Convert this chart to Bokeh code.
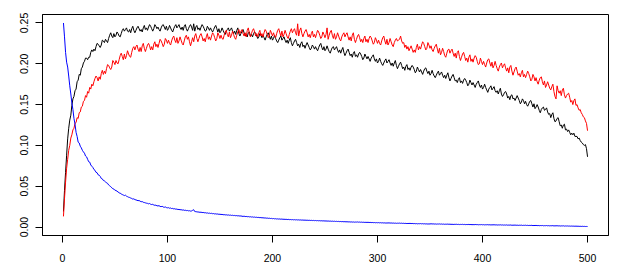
from bokeh.plotting import figure
from bokeh.models import Range1d, FixedTicker, NumeralTickFormatter
from bokeh.embed import file_html
from bokeh.resources import INLINE

x_ticks = [0, 100, 200, 300, 400, 500]
y_ticks = [0.00, 0.05, 0.10, 0.15, 0.20, 0.25]

black_vals = [
    0.019, 0.045, 0.067, 0.088, 0.108, 0.121, 0.131, 0.137, 0.149, 0.157,
    0.160, 0.167, 0.169, 0.178, 0.180, 0.187, 0.186, 0.194, 0.196, 0.201,
    0.203, 0.207, 0.207, 0.205, 0.208, 0.208, 0.214, 0.217, 0.215, 0.218,
    0.216, 0.221, 0.225, 0.224, 0.222, 0.220, 0.223, 0.229, 0.228, 0.226,
    0.230, 0.228, 0.226, 0.231, 0.235, 0.238, 0.234, 0.232, 0.237, 0.233,
    0.235, 0.239, 0.237, 0.234, 0.233, 0.237, 0.241, 0.243, 0.240, 0.242,
    0.244, 0.240, 0.239, 0.242, 0.238, 0.243, 0.246, 0.241, 0.238, 0.241,
    0.244, 0.246, 0.243, 0.240, 0.242, 0.239, 0.244, 0.247, 0.242, 0.244,
    0.241, 0.245, 0.248, 0.246, 0.243, 0.240, 0.243, 0.248, 0.246, 0.243,
    0.245, 0.242, 0.240, 0.244, 0.247, 0.248, 0.245, 0.242, 0.246, 0.241,
    0.243, 0.247, 0.244, 0.241, 0.239, 0.243, 0.246, 0.248, 0.244, 0.246,
    0.248, 0.244, 0.242, 0.245, 0.241, 0.246, 0.248, 0.243, 0.240, 0.243,
    0.246, 0.248, 0.245, 0.241, 0.249, 0.240, 0.245, 0.247, 0.242, 0.244,
    0.241, 0.245, 0.248, 0.246, 0.243, 0.240, 0.241, 0.246, 0.244, 0.241,
    0.244, 0.241, 0.239, 0.242, 0.245, 0.247, 0.243, 0.239, 0.243, 0.238,
    0.240, 0.244, 0.241, 0.238, 0.236, 0.240, 0.242, 0.244, 0.240, 0.242,
    0.244, 0.240, 0.237, 0.240, 0.236, 0.241, 0.244, 0.237, 0.234, 0.237,
    0.240, 0.242, 0.238, 0.234, 0.236, 0.233, 0.238, 0.239, 0.234, 0.236,
    0.233, 0.237, 0.239, 0.237, 0.234, 0.231, 0.233, 0.237, 0.235, 0.232,
    0.235, 0.232, 0.229, 0.233, 0.236, 0.238, 0.234, 0.230, 0.234, 0.229,
    0.231, 0.235, 0.231, 0.228, 0.226, 0.229, 0.232, 0.234, 0.229, 0.231,
    0.233, 0.229, 0.226, 0.229, 0.225, 0.229, 0.232, 0.226, 0.222, 0.225,
    0.228, 0.230, 0.226, 0.222, 0.224, 0.220, 0.225, 0.227, 0.221, 0.223,
    0.219, 0.223, 0.226, 0.223, 0.220, 0.217, 0.219, 0.223, 0.221, 0.218,
    0.221, 0.218, 0.216, 0.220, 0.223, 0.225, 0.220, 0.217, 0.221, 0.216,
    0.218, 0.222, 0.218, 0.215, 0.213, 0.217, 0.220, 0.221, 0.217, 0.219,
    0.221, 0.217, 0.214, 0.217, 0.213, 0.217, 0.220, 0.214, 0.210, 0.213,
    0.216, 0.218, 0.214, 0.210, 0.212, 0.208, 0.213, 0.215, 0.209, 0.211,
    0.208, 0.212, 0.214, 0.212, 0.209, 0.205, 0.207, 0.212, 0.209, 0.206,
    0.209, 0.206, 0.203, 0.207, 0.209, 0.211, 0.206, 0.203, 0.206, 0.201,
    0.203, 0.207, 0.203, 0.200, 0.198, 0.201, 0.204, 0.206, 0.201, 0.203,
    0.205, 0.201, 0.198, 0.201, 0.197, 0.201, 0.204, 0.198, 0.194, 0.197,
    0.200, 0.202, 0.198, 0.194, 0.196, 0.192, 0.197, 0.199, 0.193, 0.195,
    0.192, 0.196, 0.198, 0.196, 0.193, 0.189, 0.191, 0.196, 0.193, 0.190,
    0.193, 0.190, 0.187, 0.191, 0.194, 0.195, 0.191, 0.188, 0.191, 0.186,
    0.188, 0.192, 0.188, 0.185, 0.183, 0.186, 0.189, 0.191, 0.186, 0.188,
    0.190, 0.186, 0.183, 0.186, 0.182, 0.186, 0.189, 0.183, 0.179, 0.182,
    0.185, 0.187, 0.183, 0.179, 0.180, 0.177, 0.181, 0.183, 0.177, 0.179,
    0.176, 0.180, 0.182, 0.180, 0.177, 0.173, 0.175, 0.180, 0.177, 0.174,
    0.177, 0.174, 0.171, 0.175, 0.177, 0.179, 0.174, 0.171, 0.174, 0.169,
    0.171, 0.175, 0.171, 0.168, 0.165, 0.169, 0.171, 0.173, 0.168, 0.170,
    0.172, 0.167, 0.165, 0.167, 0.163, 0.167, 0.170, 0.163, 0.160, 0.162,
    0.165, 0.166, 0.163, 0.158, 0.160, 0.156, 0.161, 0.162, 0.157, 0.158,
    0.155, 0.158, 0.161, 0.158, 0.155, 0.151, 0.153, 0.157, 0.155, 0.151,
    0.154, 0.150, 0.148, 0.151, 0.154, 0.155, 0.151, 0.147, 0.151, 0.145,
    0.147, 0.150, 0.147, 0.143, 0.140, 0.144, 0.146, 0.147, 0.143, 0.144,
    0.146, 0.141, 0.138, 0.139, 0.134, 0.138, 0.140, 0.133, 0.129, 0.130,
    0.133, 0.134, 0.129, 0.124, 0.125, 0.121, 0.125, 0.126, 0.119, 0.120,
    0.117, 0.119, 0.116, 0.113, 0.115, 0.113, 0.115, 0.111, 0.111, 0.111,
    0.108, 0.109, 0.106, 0.104, 0.103, 0.101, 0.100, 0.101, 0.096, 0.086,
]

red_vals = [
    0.013, 0.035, 0.055, 0.072, 0.083, 0.094, 0.100, 0.109, 0.113, 0.119,
    0.121, 0.127, 0.128, 0.134, 0.133, 0.140, 0.141, 0.147, 0.148, 0.154,
    0.155, 0.161, 0.159, 0.166, 0.164, 0.171, 0.169, 0.175, 0.173, 0.178,
    0.182, 0.185, 0.183, 0.179, 0.184, 0.181, 0.188, 0.192, 0.187, 0.191,
    0.188, 0.194, 0.199, 0.198, 0.195, 0.193, 0.196, 0.204, 0.202, 0.199,
    0.204, 0.201, 0.200, 0.205, 0.210, 0.213, 0.209, 0.205, 0.212, 0.206,
    0.210, 0.216, 0.212, 0.209, 0.208, 0.214, 0.219, 0.221, 0.217, 0.221,
    0.223, 0.218, 0.215, 0.220, 0.215, 0.222, 0.225, 0.219, 0.215, 0.219,
    0.223, 0.225, 0.222, 0.217, 0.221, 0.217, 0.224, 0.227, 0.221, 0.224,
    0.220, 0.225, 0.230, 0.228, 0.225, 0.221, 0.224, 0.231, 0.229, 0.225,
    0.229, 0.225, 0.223, 0.228, 0.232, 0.234, 0.229, 0.226, 0.232, 0.225,
    0.228, 0.233, 0.229, 0.225, 0.223, 0.228, 0.233, 0.235, 0.230, 0.233,
    0.227, 0.222, 0.227, 0.232, 0.227, 0.234, 0.237, 0.231, 0.227, 0.231,
    0.235, 0.237, 0.233, 0.228, 0.231, 0.227, 0.233, 0.237, 0.230, 0.233,
    0.229, 0.234, 0.238, 0.236, 0.232, 0.228, 0.231, 0.238, 0.235, 0.231,
    0.235, 0.231, 0.230, 0.235, 0.239, 0.241, 0.236, 0.233, 0.239, 0.232,
    0.235, 0.240, 0.236, 0.232, 0.230, 0.235, 0.239, 0.242, 0.237, 0.240,
    0.242, 0.237, 0.234, 0.238, 0.233, 0.241, 0.244, 0.237, 0.233, 0.237,
    0.241, 0.243, 0.239, 0.234, 0.237, 0.233, 0.238, 0.241, 0.234, 0.237,
    0.233, 0.238, 0.242, 0.240, 0.236, 0.232, 0.234, 0.241, 0.238, 0.234,
    0.238, 0.234, 0.232, 0.237, 0.241, 0.243, 0.238, 0.234, 0.240, 0.233,
    0.236, 0.241, 0.237, 0.233, 0.231, 0.236, 0.240, 0.243, 0.238, 0.241,
    0.243, 0.238, 0.235, 0.249, 0.234, 0.241, 0.244, 0.237, 0.233, 0.237,
    0.240, 0.242, 0.238, 0.233, 0.236, 0.232, 0.237, 0.240, 0.233, 0.236,
    0.232, 0.237, 0.241, 0.239, 0.235, 0.231, 0.233, 0.239, 0.236, 0.232,
    0.236, 0.244, 0.230, 0.235, 0.239, 0.241, 0.235, 0.231, 0.237, 0.230,
    0.233, 0.238, 0.234, 0.230, 0.228, 0.233, 0.236, 0.238, 0.233, 0.236,
    0.238, 0.233, 0.229, 0.233, 0.228, 0.235, 0.238, 0.230, 0.226, 0.230,
    0.234, 0.236, 0.232, 0.227, 0.230, 0.226, 0.231, 0.234, 0.227, 0.230,
    0.226, 0.231, 0.234, 0.232, 0.228, 0.224, 0.226, 0.232, 0.229, 0.225,
    0.229, 0.225, 0.223, 0.228, 0.232, 0.234, 0.228, 0.224, 0.230, 0.223,
    0.226, 0.231, 0.227, 0.223, 0.221, 0.226, 0.229, 0.231, 0.228, 0.229,
    0.230, 0.234, 0.228, 0.225, 0.226, 0.220, 0.223, 0.218, 0.221, 0.216,
    0.219, 0.222, 0.218, 0.214, 0.217, 0.214, 0.220, 0.224, 0.217, 0.221,
    0.218, 0.223, 0.227, 0.225, 0.221, 0.217, 0.219, 0.226, 0.223, 0.219,
    0.222, 0.217, 0.215, 0.219, 0.222, 0.224, 0.218, 0.213, 0.219, 0.211,
    0.214, 0.219, 0.215, 0.210, 0.208, 0.213, 0.217, 0.218, 0.213, 0.216,
    0.218, 0.213, 0.209, 0.213, 0.207, 0.214, 0.216, 0.209, 0.204, 0.208,
    0.212, 0.214, 0.209, 0.204, 0.207, 0.202, 0.208, 0.211, 0.203, 0.206,
    0.202, 0.207, 0.210, 0.208, 0.203, 0.199, 0.200, 0.207, 0.203, 0.199,
    0.203, 0.199, 0.196, 0.201, 0.205, 0.206, 0.201, 0.197, 0.202, 0.195,
    0.198, 0.203, 0.198, 0.194, 0.191, 0.196, 0.199, 0.201, 0.195, 0.198,
    0.200, 0.195, 0.191, 0.195, 0.189, 0.196, 0.198, 0.191, 0.186, 0.190,
    0.194, 0.196, 0.191, 0.186, 0.188, 0.184, 0.189, 0.192, 0.184, 0.187,
    0.183, 0.187, 0.191, 0.188, 0.184, 0.179, 0.181, 0.187, 0.184, 0.179,
    0.183, 0.178, 0.175, 0.180, 0.183, 0.184, 0.178, 0.174, 0.179, 0.171,
    0.174, 0.178, 0.174, 0.170, 0.168, 0.172, 0.175, 0.166, 0.160, 0.157,
    0.173, 0.167, 0.164, 0.167, 0.161, 0.168, 0.170, 0.162, 0.158, 0.161,
    0.163, 0.164, 0.159, 0.153, 0.155, 0.150, 0.155, 0.157, 0.149, 0.150,
    0.146, 0.143, 0.144, 0.140, 0.138, 0.135, 0.134, 0.130, 0.127, 0.118,
]

blue_vals = [
    0.2500, 0.2330, 0.2140, 0.2020, 0.1960, 0.1850, 0.1730, 0.1630, 0.1520, 0.1440,
    0.1330, 0.1260, 0.1160, 0.1110, 0.1040, 0.1030, 0.0990, 0.0970, 0.0940, 0.0920,
    0.0905, 0.0870, 0.0860, 0.0830, 0.0800, 0.0795, 0.0760, 0.0745, 0.0730, 0.0705,
    0.0695, 0.0670, 0.0665, 0.0640, 0.0635, 0.0620, 0.0595, 0.0590, 0.0570, 0.0565,
    0.0555, 0.0540, 0.0535, 0.0515, 0.0505, 0.0495, 0.0480, 0.0470, 0.0465, 0.0450,
    0.0448, 0.0438, 0.0430, 0.0418, 0.0415, 0.0405, 0.0398, 0.0392, 0.0385, 0.0390,
    0.0378, 0.0372, 0.0365, 0.0362, 0.0355, 0.0350, 0.0342, 0.0345, 0.0336, 0.0332,
    0.0328, 0.0322, 0.0325, 0.0316, 0.0310, 0.0312, 0.0303, 0.0300, 0.0296, 0.0292,
    0.0290, 0.0284, 0.0288, 0.0279, 0.0275, 0.0278, 0.0270, 0.0266, 0.0268, 0.0260,
    0.0258, 0.0262, 0.0252, 0.0250, 0.0254, 0.0245, 0.0242, 0.0246, 0.0238, 0.0235,
    0.0237, 0.0230, 0.0233, 0.0226, 0.0228, 0.0222, 0.0224, 0.0218, 0.0220, 0.0214,
    0.0216, 0.0211, 0.0213, 0.0207, 0.0210, 0.0204, 0.0206, 0.0201, 0.0203, 0.0198,
    0.0200, 0.0195, 0.0197, 0.0205, 0.0212, 0.0190, 0.0188, 0.0186, 0.0184, 0.0183,
    0.0180, 0.0182, 0.0177, 0.0179, 0.0174, 0.0176, 0.0171, 0.0173, 0.0168, 0.0170,
    0.0166, 0.0168, 0.0163, 0.0165, 0.0160, 0.0162, 0.0158, 0.0160, 0.0155, 0.0157,
    0.0153, 0.0155, 0.0150, 0.0152, 0.0148, 0.0150, 0.0146, 0.0148, 0.0144, 0.0146,
    0.0142, 0.0144, 0.0140, 0.0142, 0.0138, 0.0140, 0.0136, 0.0138, 0.0134, 0.0136,
    0.0132, 0.0130, 0.0133, 0.0128, 0.0130, 0.0126, 0.0128, 0.0124, 0.0126, 0.0122,
    0.0124, 0.0120, 0.0122, 0.0118, 0.0120, 0.0116, 0.0118, 0.0114, 0.0116, 0.0112,
    0.0114, 0.0110, 0.0112, 0.0108, 0.0110, 0.0106, 0.0108, 0.0104, 0.0106, 0.0102,
    0.0104, 0.0100, 0.0102, 0.0098, 0.0100, 0.0097, 0.0099, 0.0095, 0.0098, 0.0094,
    0.0096, 0.0093, 0.0095, 0.0091, 0.0094, 0.0090, 0.0092, 0.0089, 0.0091, 0.0088,
    0.0090, 0.0087, 0.0089, 0.0086, 0.0088, 0.0085, 0.0087, 0.0084, 0.0086, 0.0083,
    0.0085, 0.0082, 0.0084, 0.0081, 0.0083, 0.0080, 0.0082, 0.0079, 0.0081, 0.0078,
    0.0080, 0.0077, 0.0079, 0.0076, 0.0078, 0.0075, 0.0077, 0.0074, 0.0076, 0.0073,
    0.0075, 0.0072, 0.0074, 0.0071, 0.0073, 0.0070, 0.0072, 0.0069, 0.0071, 0.0068,
    0.0070, 0.0067, 0.0069, 0.0066, 0.0068, 0.0065, 0.0067, 0.0064, 0.0066, 0.0063,
    0.0065, 0.0062, 0.0064, 0.0061, 0.0063, 0.0060, 0.0062, 0.0059, 0.0061, 0.0060,
    0.0062, 0.0059, 0.0061, 0.0058, 0.0060, 0.0057, 0.0059, 0.0056, 0.0058, 0.0056,
    0.0058, 0.0055, 0.0057, 0.0054, 0.0056, 0.0053, 0.0055, 0.0052, 0.0054, 0.0052,
    0.0054, 0.0051, 0.0053, 0.0050, 0.0052, 0.0049, 0.0051, 0.0048, 0.0050, 0.0049,
    0.0051, 0.0048, 0.0050, 0.0047, 0.0049, 0.0046, 0.0048, 0.0045, 0.0047, 0.0046,
    0.0048, 0.0045, 0.0047, 0.0044, 0.0046, 0.0043, 0.0045, 0.0042, 0.0044, 0.0043,
    0.0045, 0.0042, 0.0044, 0.0041, 0.0043, 0.0040, 0.0042, 0.0039, 0.0041, 0.0040,
    0.0042, 0.0039, 0.0041, 0.0038, 0.0040, 0.0037, 0.0039, 0.0036, 0.0038, 0.0037,
    0.0040, 0.0037, 0.0039, 0.0036, 0.0038, 0.0035, 0.0037, 0.0036, 0.0038, 0.0035,
    0.0037, 0.0034, 0.0036, 0.0033, 0.0035, 0.0034, 0.0036, 0.0033, 0.0035, 0.0032,
    0.0034, 0.0031, 0.0033, 0.0032, 0.0034, 0.0031, 0.0033, 0.0030, 0.0032, 0.0031,
    0.0033, 0.0030, 0.0032, 0.0029, 0.0031, 0.0030, 0.0032, 0.0029, 0.0031, 0.0028,
    0.0030, 0.0028, 0.0031, 0.0029, 0.0030, 0.0027, 0.0029, 0.0028, 0.0030, 0.0027,
    0.0029, 0.0026, 0.0028, 0.0027, 0.0029, 0.0026, 0.0028, 0.0025, 0.0027, 0.0026,
    0.0028, 0.0025, 0.0027, 0.0024, 0.0026, 0.0025, 0.0027, 0.0024, 0.0026, 0.0023,
    0.0025, 0.0023, 0.0026, 0.0022, 0.0024, 0.0023, 0.0025, 0.0021, 0.0023, 0.0022,
    0.0024, 0.0021, 0.0023, 0.0020, 0.0022, 0.0021, 0.0023, 0.0019, 0.0021, 0.0020,
    0.0022, 0.0019, 0.0021, 0.0018, 0.0020, 0.0019, 0.0021, 0.0017, 0.0019, 0.0018,
    0.0020, 0.0017, 0.0019, 0.0016, 0.0018, 0.0017, 0.0019, 0.0015, 0.0017, 0.0016,
    0.0018, 0.0015, 0.0017, 0.0014, 0.0016, 0.0015, 0.0017, 0.0013, 0.0015, 0.0014,
    0.0016, 0.0013, 0.0015, 0.0012, 0.0014, 0.0013, 0.0015, 0.0011, 0.0013, 0.0012,
    0.0013, 0.0011, 0.0012, 0.0010, 0.0012, 0.0010, 0.0011, 0.0009, 0.0011, 0.0009,
    0.0010, 0.0008, 0.0009, 0.0007, 0.0009, 0.0007, 0.0008, 0.0006, 0.0007, 0.0006,
]

index = list(range(1, len(black_vals) + 1))

FONT = "Liberation Sans"
FS = "10.5px"

p = figure(
    output_backend="svg", toolbar_location=None,
    frame_width=566, frame_height=221,
    min_border_left=42, min_border_right=7, min_border_top=14, min_border_bottom=34,
    x_range=Range1d(-18.96, 519.96), y_range=Range1d(-0.0104, 0.2604),
    background_fill_color="white", border_fill_color="white",
)
p.outline_line_color = "black"
p.outline_line_width = 1
p.xgrid.visible = False
p.ygrid.visible = False

p.line(index, black_vals, line_color="black", line_width=1)
p.line(index, red_vals, line_color="red", line_width=1)
p.line(index, blue_vals, line_color="blue", line_width=1)

for ax in (p.xaxis[0], p.yaxis[0]):
    ax.axis_line_color = "black"
    ax.major_tick_line_color = "black"
    ax.major_tick_in = 0
    ax.major_tick_out = 7
    ax.minor_tick_line_color = None
    ax.major_label_text_font = FONT
    ax.major_label_text_font_size = FS
    ax.major_label_text_color = "black"

p.xaxis[0].ticker = FixedTicker(ticks=x_ticks)
p.xaxis[0].major_label_standoff = 11
p.yaxis[0].ticker = FixedTicker(ticks=y_ticks)
p.yaxis[0].formatter = NumeralTickFormatter(format="0.00")
p.yaxis[0].major_label_orientation = "vertical"
p.yaxis[0].major_label_standoff = 7

open("out.html", "w").write(file_html(p, INLINE))
